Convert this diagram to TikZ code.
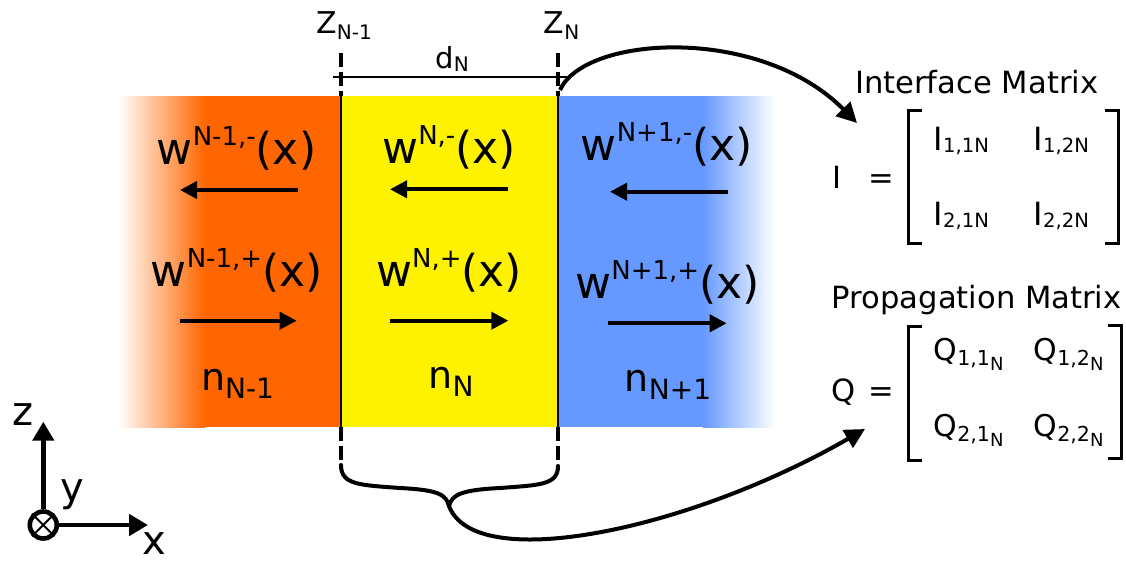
\documentclass[tikz,border=0pt]{standalone}
\usepackage{fontspec}
\setmainfont{DejaVu Sans}
\usetikzlibrary{arrows.meta}
\definecolor{lorange}{HTML}{FF6600}
\definecolor{lyellow}{HTML}{FFF200}
\definecolor{lblue}{HTML}{6699FF}
\newcommand\fsz[1]{\fontsize{#1}{#1}\selectfont}
\begin{document}
\begin{tikzpicture}[x=0.5pt,y=-0.5pt,
  lab/.style={inner sep=0pt, anchor=base},
  labw/.style={inner sep=0pt, anchor=base west},
  wlab/.style={lab, font=\fsz{22}},
  nlab/.style={lab, font=\fsz{19}},
  ttl/.style={lab, font=\fsz{15.3}},
  wave/.style={line width=1.9pt, -{Triangle[length=8.5pt,width=8.5pt]}},
  bigarrow/.style={line width=2pt, -{Triangle[length=10pt,width=10pt]}},
  axis/.style={line width=2.3pt, -{Triangle[length=9.5pt,width=10.5pt]}},
  iface/.style={line width=1.6pt, dash pattern=on 7pt off 2.5pt},
  bracket/.style={line width=1.5pt},
  bracestyle/.style={line width=2pt, line cap=round},
]
\useasboundingbox (0,0) rectangle (1126,563);
% layers
\shade[left color=white, right color=lorange] (118,96) rectangle (205,427);
\fill[lorange] (204.5,96) rectangle (341,427);
\fill[lyellow] (341,96) rectangle (558,427);
\fill[lblue] (558,96) rectangle (703.5,427);
\shade[left color=lblue, right color=white] (703,96) rectangle (775,427);
% interfaces
\coordinate (a1) at (341,53); \coordinate (a2) at (341,96);
\coordinate (a3) at (341,427); \coordinate (a4) at (341,465);
\coordinate (b1) at (558,53); \coordinate (b2) at (558,96);
\coordinate (b3) at (558,427); \coordinate (b4) at (558,466);
\draw[iface] (a1) -- (a2);
\draw[line width=1pt] (a2) -- (a3);
\draw[iface] (a3) -- (a4);
\draw[iface] (b1) -- (b2);
\draw[line width=1pt] (b2) -- (b3);
\draw[iface] (b3) -- (b4);
% thickness line
\coordinate (d1) at (333,77); \coordinate (d2) at (567,77);
\draw[line width=1.2pt] (d1) -- (d2);
% labels on top
\node[labw, font=\fsz{15}] (z1) at (316,33.3) {Z\raisebox{-3pt}{\fsz{10}N-1}};
\node[labw, font=\fsz{15}] (z2) at (543.3,33.3) {Z\raisebox{-3.3pt}{\fsz{10}N}};
\node[labw, font=\fsz{14.5}] (dn) at (435,68.3) {d\raisebox{-1.5pt}{\fsz{10}N}};
% wave labels
\node[wlab] (wlm) at (236.5,164) {w\raisebox{9.5pt}{\fsz{13}N-1,-}(x)};
\node[wlab] (wlp) at (236.7,286.7) {w\raisebox{9.5pt}{\fsz{13}N-1,+}(x)};
\node[nlab] (nl) at (237.5,390) {n\raisebox{-4pt}{\fsz{14}N-1}};
\node[wlab] (wcm) at (449,163.3) {w\raisebox{9.5pt}{\fsz{13}N,-}(x)};
\node[wlab] (wcp) at (449,286.7) {w\raisebox{9.5pt}{\fsz{13}N,+}(x)};
\node[nlab] (nc) at (451,388.3) {n\raisebox{-4pt}{\fsz{14}N}};
\node[wlab] (wrm) at (666.7,160.7) {w\raisebox{9.5pt}{\fsz{13}N+1,-}(x)};
\node[wlab] (wrp) at (667.5,298.3) {w\raisebox{9.5pt}{\fsz{13}N+1,+}(x)};
\node[nlab] (nr) at (668,391.7) {n\raisebox{-4pt}{\fsz{14}N+1}};
% wave arrows
\coordinate (l1s) at (298,190);   \coordinate (l1e) at (180,190);
\coordinate (l2s) at (180,320.7); \coordinate (l2e) at (296.7,320.7);
\coordinate (c1s) at (508.3,189.3); \coordinate (c1e) at (390,189.3);
\coordinate (c2s) at (390,320.7); \coordinate (c2e) at (508.3,320.7);
\coordinate (r1s) at (728.3,191.7); \coordinate (r1e) at (610,191.7);
\coordinate (r2s) at (608.3,323.3); \coordinate (r2e) at (726.7,323.3);
\draw[wave] (l1s) -- (l1e);
\draw[wave] (l2s) -- (l2e);
\draw[wave] (c1s) -- (c1e);
\draw[wave] (c2s) -- (c2e);
\draw[wave] (r1s) -- (r1e);
\draw[wave] (r2s) -- (r2e);
% brace
\coordinate (tip) at (449,506);
\draw[bracestyle] (a4) .. controls (341,485) and (360,485) .. (400,488) .. controls (440,490) and (446,495) .. (tip);
\draw[bracestyle] (b4) .. controls (558,485) and (540,485) .. (500,488) .. controls (460,490) and (452,495) .. (tip);
% curved arrows
\coordinate (istart) at (560,90);
\coordinate (iarr) at (857,123);
\coordinate (qarr) at (865,429);
\draw[bigarrow] (istart) .. controls (585,35) and (760,25) .. (iarr);
\draw[bigarrow] (tip) .. controls (475,575) and (690,530) .. (qarr);
% interface matrix
\node[ttl] (it) at (976.7,93.3) {Interface Matrix};
\node[ttl] (iname) at (837.3,188.3) {I};
\node[ttl] (ieq) at (881,188.3) {=};
\node[labw, font=\fsz{16}] (i11) at (933.3,150) {I\raisebox{-1pt}{\fsz{9.8}1,1N}};
\node[labw, font=\fsz{16}] (i12) at (1033.3,150) {I\raisebox{-1pt}{\fsz{9.8}1,2N}};
\node[labw, font=\fsz{16}] (i21) at (933.3,225) {I\raisebox{-1pt}{\fsz{9.8}2,1N}};
\node[labw, font=\fsz{16}] (i22) at (1033.3,225) {I\raisebox{-1pt}{\fsz{9.8}2,2N}};
\draw[bracket] (921.7,110) -- (908.3,110) -- (908.3,243.3) -- (921.7,243.3);
\draw[bracket] (1105,110) -- (1118.3,110) -- (1118.3,243.3) -- (1105,243.3);
% propagation matrix
\node[ttl] (pt) at (976.7,308.3) {Propagation Matrix};
\node[ttl] (qname) at (844,401.7) {Q};
\node[ttl] (qeq) at (881,401.7) {=};
\node[labw, font=\fsz{15}] (q11) at (933.3,360) {Q\raisebox{-2.5pt}{\fsz{10.3}1,1\raisebox{-2.5pt}{\fsz{9}N}}};
\node[labw, font=\fsz{15}] (q12) at (1033.3,360) {Q\raisebox{-2.5pt}{\fsz{10.3}1,2\raisebox{-2.5pt}{\fsz{9}N}}};
\node[labw, font=\fsz{15}] (q21) at (933.3,436.7) {Q\raisebox{-2.5pt}{\fsz{10.3}2,1\raisebox{-2.5pt}{\fsz{9}N}}};
\node[labw, font=\fsz{15}] (q22) at (1033.3,436.7) {Q\raisebox{-2.5pt}{\fsz{10.3}2,2\raisebox{-2.5pt}{\fsz{9}N}}};
\draw[bracket] (921.7,326.7) -- (908.3,326.7) -- (908.3,460) -- (921.7,460);
\draw[bracket] (1108.3,325) -- (1121.7,325) -- (1121.7,458.3) -- (1108.3,458.3);
% axes
\node[draw, circle, line width=2.3pt, minimum size=13.5pt, inner sep=0pt] (o) at (43.3,525) {};
\draw[line width=1pt] (o.45) -- (o.225) (o.135) -- (o.315);
\coordinate (zt) at (43.3,421.7);
\coordinate (xt) at (148,525);
\draw[axis] (o) -- (zt);
\draw[axis] (o) -- (xt);
\node[lab, font=\fsz{20}] (zl) at (23,425) {z};
\node[lab, font=\fsz{20}] (yl) at (72,501.7) {y};
\node[lab, font=\fsz{20}] (xl) at (154,554.5) {x};
\end{tikzpicture}
\end{document}
